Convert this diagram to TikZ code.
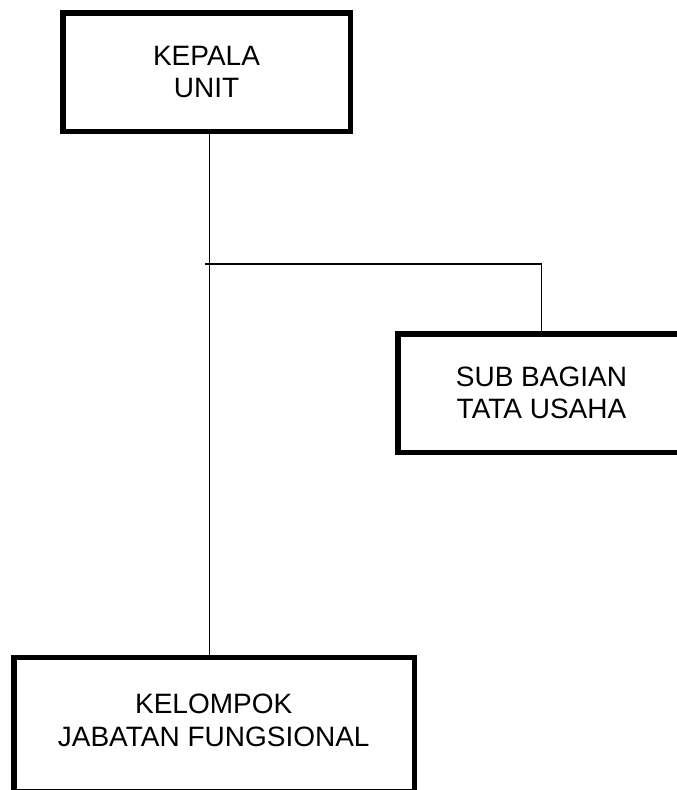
\documentclass[tikz,border=0pt]{standalone}
\usepackage{fontspec}
\setmainfont{Liberation Sans}
\begin{document}
\begin{tikzpicture}[x=1pt,y=-1pt,
  orgbox/.style={draw=black, line width=5.5pt, rectangle, inner sep=0pt, fill=white},
  boxtext/.style={font=\fontsize{28}{32.5}\selectfont, align=center, inner sep=0pt, text=black},
  link/.style={draw=black, line width=1.2pt}]
\useasboundingbox (0,0) rectangle (677,790);
\clip (0,0) rectangle (677,790);
\fill[white] (0,0) rectangle (677,790);
% boxes
\node[orgbox, minimum width=287.5pt, minimum height=118.5pt] (kepala) at (206.5,72) {};
\node[orgbox, minimum width=287.5pt, minimum height=118.5pt] (subbag) at (541.5,393) {};
\node[orgbox, minimum width=400.5pt, minimum height=133.75pt] (kelompok) at (214,724.6) {};
% texts
\node[boxtext] (tkepala) at (kepala.center) {KEPALA\\UNIT};
\node[boxtext] (tsubbag) at (subbag.center) {SUB BAGIAN\\TATA USAHA};
\node[boxtext] (tkelompok) at (213.7,720.3) {KELOMPOK\\JABATAN FUNGSIONAL};
% connectors
\coordinate (trunk) at (209.3,264);
\coordinate (junction) at (205,264);
\draw[link] (kepala.south -| trunk) -- (kelompok.north -| trunk);
\draw[link] (junction) -- (junction -| subbag.north) -- (subbag.north);
\end{tikzpicture}
\end{document}
